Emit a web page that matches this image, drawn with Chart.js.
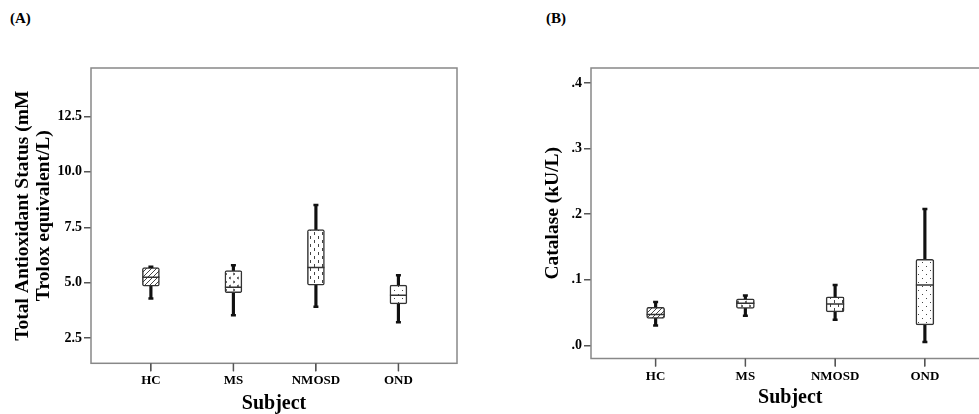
<!DOCTYPE html>
<html>
<head>
<meta charset="utf-8">
<script src="https://cdn.jsdelivr.net/npm/chart.js@4"></script>
<style>
body{margin:0;width:979px;height:414px;overflow:hidden;background:#fff;position:relative;font-family:"Liberation Serif",serif}
.lbl{position:absolute;top:10px;font-weight:bold;font-size:15px;color:#000}
#wa{position:absolute;left:0;top:0;width:490px;height:414px}
#wb{position:absolute;left:500px;top:0;width:500px;height:414px}
</style>
</head>
<body>
<div class="lbl" style="left:10px">(A)</div>
<div class="lbl" style="left:546px">(B)</div>
<div id="wa"><canvas id="ca"></canvas></div>
<div id="wb"><canvas id="cb"></canvas></div>
<script>
// csoportok
var groups = ["HC", "MS", "NMOSD", "OND"];

// (A) Total Antioxidant Status - doboz adatok
var tasMin = [4.29, 3.54, 3.92, 3.22];
var tasQ1  = [4.85, 4.55, 4.89, 4.05];
var tasMed = [5.25, 4.80, 5.69, 4.44];
var tasQ3  = [5.68, 5.55, 7.40, 4.89];
var tasMax = [5.72, 5.79, 8.51, 5.34];
var tasTicks = [2.5, 5.0, 7.5, 10.0, 12.5];

// (B) Catalase
var catMin = [0.030, 0.045, 0.039, 0.005];
var catQ1  = [0.041, 0.056, 0.051, 0.031];
var catMed = [0.047, 0.064, 0.063, 0.092];
var catQ3  = [0.058, 0.071, 0.074, 0.131];
var catMax = [0.066, 0.076, 0.092, 0.208];
var catTicks = [0, 0.1, 0.2, 0.3, 0.4];

// mintazatok a dobozokhoz
function minta(fajta) {
    var c = document.createElement("canvas");
    var m = fajta == "hatch" ? 5 : 8;
    c.width = m; c.height = m;
    var g = c.getContext("2d");
    g.fillStyle = "#fff";
    g.fillRect(0, 0, m, m);
    g.strokeStyle = "#444";
    g.fillStyle = "#444";
    g.lineWidth = 1;
    if (fajta == "hatch") {
        g.beginPath();
        g.moveTo(-1, m + 1); g.lineTo(m + 1, -1);
        g.stroke();
    } else if (fajta == "chevron") {
        g.beginPath();
        g.moveTo(1, 1); g.lineTo(3, 2); g.lineTo(1, 3);
        g.moveTo(7, 5); g.lineTo(5, 6); g.lineTo(7, 7);
        g.stroke();
    } else if (fajta == "dash") {
        g.fillRect(2, 0, 1, 3);
        g.fillRect(6, 4, 1, 3);
    } else {
        g.fillRect(2, 2, 1, 1);
        g.fillRect(6, 6, 1, 1);
    }
    return g.createPattern(c, "repeat");
}
var mintak = [minta("hatch"), minta("chevron"), minta("dash"), minta("dot")];

// keret + kis jelek az x tengely alatt
var keret = {
    id: "keret",
    afterDraw: function (chart) {
        var a = chart.chartArea, ctx = chart.ctx, sx = chart.scales.x;
        ctx.save();
        ctx.strokeStyle = "#888";
        ctx.lineWidth = 1.5;
        ctx.strokeRect(a.left, a.top, a.right - a.left, a.bottom - a.top);
        ctx.strokeStyle = "#555";
        ctx.lineWidth = 1.5;
        ctx.beginPath();
        for (var i = 0; i < groups.length; i++) {
            var px = sx.getPixelForValue(i);
            ctx.moveTo(px, a.bottom);
            ctx.lineTo(px, a.bottom + 8);
        }
        ctx.stroke();
        ctx.restore();
    }
};

function doboz(canvasId, mn, q1, md, q3, mx, ticks, yMin, yMax, xMin, xMax, cimY, cimPad, yFmt, xH, padR, boxW, subjPad) {
    var whisk = [], box = [], med = [], caps = [];
    for (var i = 0; i < groups.length; i++) {
        whisk.push({x: i, y: [mn[i], mx[i]]});
        box.push({x: i, y: [q1[i], q3[i]]});
        med.push({x: i, y: md[i]});
        caps.push({x: i, y: mn[i]});
        caps.push({x: i, y: mx[i]});
    }
    return new Chart(document.getElementById(canvasId), {
        type: "bar",
        data: {
            datasets: [
                {data: whisk, backgroundColor: "#111", barThickness: 2.5, grouped: false, order: 3},
                {data: box, backgroundColor: mintak, borderColor: "#333", borderWidth: 1.5,
                    borderSkipped: false, borderRadius: 2, barThickness: boxW, grouped: false, order: 2},
                {type: "scatter", data: med, pointStyle: "line", radius: boxW / 2, borderWidth: 1.5,
                    borderColor: "#333", order: 1},
                {type: "scatter", data: caps, pointStyle: "line", radius: 2.5, borderWidth: 2.5,
                    borderColor: "#111", order: 1}
            ]
        },
        options: {
            responsive: true,
            maintainAspectRatio: false,
            animation: false,
            layout: {padding: {top: 68, right: padR, bottom: 0, left: 0}},
            plugins: {legend: {display: false}, tooltip: {enabled: false}},
            scales: {
                x: {
                    type: "linear", min: xMin, max: xMax, offset: false,
                    afterBuildTicks: function (s) { s.ticks = groups.map(function (g, i) { return {value: i}; }); },
                    afterFit: function (s) { s.height = xH; },
                    grid: {offset: false, drawOnChartArea: false, drawTicks: true, tickLength: 8, color: "#555"},
                    border: {display: false},
                    ticks: {color: "#000", padding: 2, font: {family: "Liberation Serif", size: 13, weight: "bold"},
                        callback: function (v) { return groups[v]; }},
                    title: {display: true, text: "Subject", color: "#000", padding: {top: 0, bottom: subjPad},
                        font: {family: "Liberation Serif", size: 20, weight: "bold", lineHeight: 1.0}}
                },
                y: {
                    min: yMin, max: yMax,
                    afterBuildTicks: function (s) { s.ticks = ticks.map(function (v) { return {value: v}; }); },
                    afterFit: function (s) { s.width = 91; },
                    grid: {drawOnChartArea: false, drawTicks: true, tickLength: 7, color: "#555", lineWidth: 1.5},
                    border: {display: false},
                    ticks: {color: "#000", padding: 2, font: {family: "Liberation Serif", size: 14, weight: "bold"},
                        callback: yFmt},
                    title: {display: true, text: cimY, color: "#000", padding: {top: cimPad, bottom: 0},
                        font: {family: "Liberation Serif", size: 19.5, weight: "bold", lineHeight: 1.08}}
                }
            }
        },
        plugins: [keret]
    });
}

doboz("ca", tasMin, tasQ1, tasMed, tasQ3, tasMax, tasTicks, 1.37, 14.68, -0.726, 3.71,
    ["Total Antioxidant Status (mM", "Trolox equivalent/L)"], 12,
    function (v) { return v.toFixed(1); }, 50.7, 33, 17, 0);

doboz("cb", catMin, catQ1, catMed, catQ3, catMax, catTicks, -0.0202, 0.4229, -0.72, 3.72,
    "Catalase (kU/L)", 42,
    function (v) { return v.toFixed(1).replace(/^0/, ""); }, 55.5, 10.3, 18, 6);
</script>
</body>
</html>
